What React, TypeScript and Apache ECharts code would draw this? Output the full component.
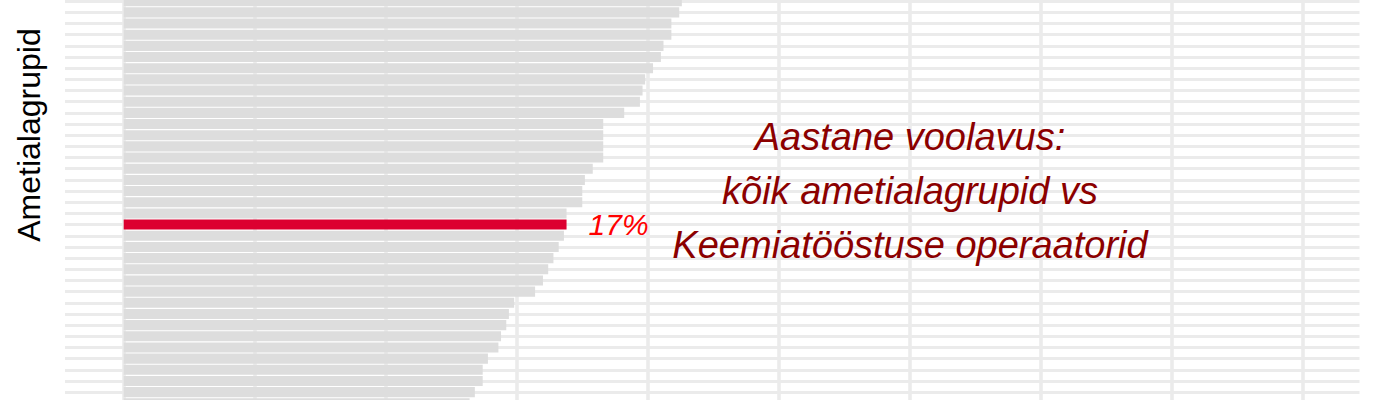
import React, { useEffect, useRef } from 'react'
import * as echarts from 'echarts'

// ametialagrupid (nimed pole pildil nähtavad), ülevalt alla
const groups = [
  'grupp 1', 'grupp 2', 'grupp 3', 'grupp 4', 'grupp 5', 'grupp 6', 'grupp 7',
  'grupp 8', 'grupp 9', 'grupp 10', 'grupp 11', 'grupp 12', 'grupp 13', 'grupp 14',
  'grupp 15', 'grupp 16', 'grupp 17', 'grupp 18', 'grupp 19', 'grupp 20',
  'Keemiatööstuse operaatorid',
  'grupp 22', 'grupp 23', 'grupp 24', 'grupp 25', 'grupp 26', 'grupp 27',
  'grupp 28', 'grupp 29', 'grupp 30', 'grupp 31', 'grupp 32', 'grupp 33',
  'grupp 34', 'grupp 35', 'grupp 36', 'grupp 37'
]

// aastane voolavus, %
const turnover = [
  21.3, 21.2, 20.9, 20.9, 20.6, 20.5, 20.2, 19.9, 19.8, 19.7, 19.1, 18.3, 18.3,
  18.3, 18.3, 17.9, 17.6, 17.5, 17.5, 16.9, 16.9, 16.8, 16.6, 16.4, 16.2, 16.0,
  15.7, 14.9, 14.7, 14.6, 14.4, 14.3, 13.9, 13.7, 13.7, 13.4, 13.2
]

const highlight = 'Keemiatööstuse operaatorid'

// vertikaalsed abijooned (tick'id), %
const xTicks = [0, 5, 10, 15, 20, 25, 30, 35, 40, 45]

const titleLines = [
  'Aastane voolavus:',
  'kõik ametialagrupid vs',
  'Keemiatööstuse operaatorid'
]

const FONT = '"Liberation Sans", Arial, sans-serif'
const GRID_COLOR = '#ebebeb'
// joonis on ülevalt ja alt kärbitud: graafik on 10px kõrgem kui nähtav ala
const SHIFT = 10

const App: React.FC = () => {
  const chartRef = useRef<HTMLDivElement>(null)

  useEffect(() => {
    document.body.style.margin = '0'
    document.body.style.overflow = 'hidden'
    if (!chartRef.current) return
    const chart = echarts.init(chartRef.current, undefined, { renderer: 'svg' })

    const option: echarts.EChartsOption = {
      animation: false,
      grid: { left: 65, right: 40.5, top: SHIFT - 4.4, bottom: 1.1 },
      xAxis: {
        type: 'value',
        min: -2.24,
        max: 47.16,
        axisLine: { show: false },
        axisTick: { show: false },
        axisLabel: { show: false },
        splitLine: { show: false }
      },
      yAxis: {
        type: 'category',
        data: groups,
        inverse: true,
        axisLine: { show: false },
        axisTick: { show: false },
        axisLabel: { show: false },
        splitLine: { show: false }
      },
      series: [
        {
          type: 'bar',
          z: 2,
          barCategoryGap: '10%',
          data: turnover.map((v, i) =>
            groups[i] === highlight
              ? {
                  value: v,
                  itemStyle: { color: '#dc0030' },
                  label: {
                    show: true,
                    position: 'right',
                    distance: 22,
                    formatter: (p: any) => Math.round(p.value) + '%',
                    color: '#ff0000',
                    fontStyle: 'italic',
                    fontSize: 30,
                    fontFamily: FONT
                  }
                }
              : { value: v }
          ),
          itemStyle: { color: '#dddddd' },
          markLine: {
            z: 1,
            silent: true,
            symbol: 'none',
            label: { show: false },
            lineStyle: { color: GRID_COLOR, width: 3.2, type: 'solid' },
            data: [
              ...groups.map((_, i) => ({ yAxis: i })),
              ...xTicks.map((t) => ({
                xAxis: t,
                lineStyle: { color: GRID_COLOR, width: 3.6, type: 'solid' as const }
              }))
            ]
          }
        }
      ],
      graphic: [
        {
          type: 'text',
          z: 100,
          x: 29,
          y: SHIFT + 135,
          rotation: Math.PI / 2,
          style: {
            text: 'Ametialagrupid',
            fontSize: 32,
            fontFamily: FONT,
            fill: '#000000',
            align: 'center',
            verticalAlign: 'middle'
          }
        },
        {
          type: 'text',
          z: 100,
          x: 910,
          y: SHIFT + 191,
          style: {
            text: titleLines.join('\n'),
            fontSize: 38,
            lineHeight: 54,
            fontStyle: 'italic',
            fontFamily: FONT,
            fill: '#8b0000',
            align: 'center',
            verticalAlign: 'middle'
          }
        }
      ]
    }

    chart.setOption(option)

    return () => {
      chart.dispose()
    }
  }, [])

  return (
    <div style={{ width: 1400, height: 400, overflow: 'hidden', position: 'relative' }}>
      <div
        ref={chartRef}
        style={{ position: 'absolute', left: 0, top: -SHIFT, width: 1400, height: 400 + 2 * SHIFT }}
      />
    </div>
  )
}

export default App
